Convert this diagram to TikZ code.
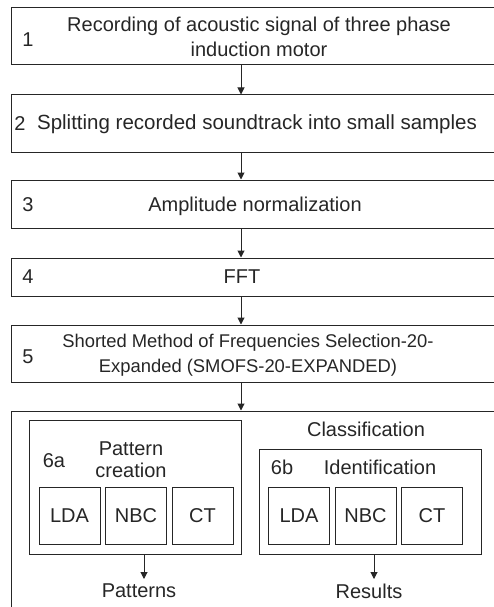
\documentclass[tikz,border=0pt]{standalone}
\usepackage{fontspec}
\setmainfont{Liberation Sans}
\usetikzlibrary{shapes.geometric, arrows.meta}
\tikzstyle{nobox} = [draw=none, inner sep=0pt, text centered]
\tikzstyle{stepbox} = [draw=black!85, line width=1pt, minimum width=494pt, text centered]
\tikzstyle{groupbox} = [draw=black!85, line width=1pt]
\tikzstyle{algbox} = [draw=black!85, line width=1pt, minimum width=61pt, minimum height=57pt, text centered]
\tikzstyle{arrow} = [line width=1pt, draw=black!85, -{Triangle[length=7pt,width=7pt]}]

\begin{document}
\begin{tikzpicture}[x=1pt, y=1pt, node distance=66.5pt, every node/.style={text=black!85, font=\fontsize{20}{25}\selectfont}] % origin at the top left corner

    \useasboundingbox (0,0) rectangle (494,-607);

    \node (rec) [stepbox, minimum height=57pt] at (258,-36.5) {};
    \node (rec_txt) [nobox, align=center] at (259,-36.5) {Recording of acoustic signal of three phase\\induction motor};
    \node (rec_num) [nobox] at (28,-40) {1};

    \node (split) [stepbox, minimum height=57pt] at (258,-123.5) {};
    \node (split_txt) [nobox, font=\fontsize{20.5}{25}\selectfont] at (257,-124) {Splitting recorded soundtrack into small samples};
    \node (split_num) [nobox] at (20,-124) {2};

    \node (norm) [stepbox, minimum height=48pt] at (258,-204) {};
    \node (norm_txt) [nobox] at (255,-206) {Amplitude normalization};
    \node (norm_num) [nobox] at (28,-205) {3};

    \node (fft) [stepbox, minimum height=38pt] at (258,-277) {};
    \node (fft_txt) [nobox] at (242,-277) {FFT};
    \node (fft_num) [nobox] at (28,-277) {4};

    \node (smofs) [stepbox, minimum height=57pt] at (258,-353.5) {};
    \node (smofs_txt) [nobox, align=center, font=\fontsize{18.4}{25}\selectfont] at (248,-355) {Shorted Method of Frequencies Selection-20-\\Expanded (SMOFS-20-EXPANDED)};
    \node (smofs_num) [nobox] at (28,-357) {5};

    \node (classif) [stepbox, minimum height=230pt] at (258,-526) {};
    \node (classif_txt) [nobox] at (366,-429) {Classification};

    % 6a
    \node (pat) [groupbox, minimum width=212pt, minimum height=134pt] at (135,-487) {};
    \node (pat_num) [nobox] at (54,-461) {6a};
    \node (pat_txt) [nobox, align=center, font=\fontsize{20}{22}\selectfont] at (131,-460) {Pattern\\creation};
    \node (lda_a) [algbox] at (69.5,-515.5) {LDA};
    \node (nbc_a) [algbox, right of=lda_a] {NBC};
    \node (ct_a) [algbox, right of=nbc_a] {CT};

    % 6b
    \node (ident) [groupbox, minimum width=222pt, minimum height=105pt] at (370,-501.5) {};
    \node (ident_num) [nobox] at (282,-467) {6b};
    \node (ident_txt) [nobox] at (380,-467) {Identification};
    \node (lda_b) [algbox] at (299,-515.5) {LDA};
    \node (nbc_b) [algbox, right of=lda_b] {NBC};
    \node (ct_b) [algbox, right of=nbc_b] {CT};

    \node (patterns) [nobox] at (139,-591) {Patterns};
    \node (results) [nobox] at (369,-591) {Results};
    \coordinate (pat_end) at (144,-579);
    \coordinate (res_end) at (374,-579);

    \draw[arrow] ([xshift=-17pt]rec.south) -- ([xshift=-17pt]split.north);
    \draw[arrow] ([xshift=-17pt]split.south) -- ([xshift=-17pt]norm.north);
    \draw[arrow] ([xshift=-17pt]norm.south) -- ([xshift=-17pt]fft.north);
    \draw[arrow] ([xshift=-17pt]fft.south) -- ([xshift=-17pt]smofs.north);
    \draw[arrow] ([xshift=-17pt]smofs.south) -- ([xshift=-17pt]classif.north);
    \draw[arrow] (pat.south -| pat_end) -- (pat_end);
    \draw[arrow] (ident.south -| res_end) -- (res_end);

    \end{tikzpicture}
\end{document}
